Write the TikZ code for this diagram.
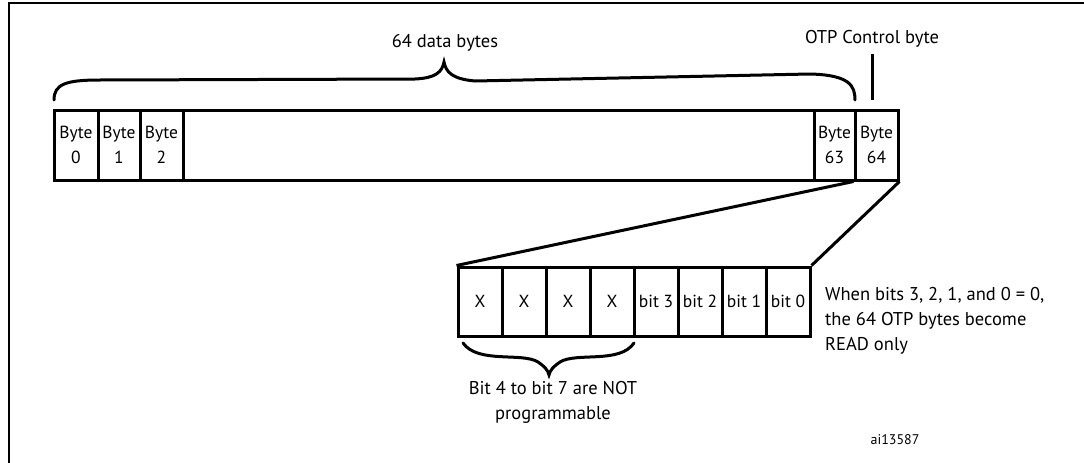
\documentclass[tikz,border=0pt]{standalone}
\usepackage{fontspec}
\setmainfont{PT Sans}
\begin{document}
\begin{tikzpicture}[x=1pt,y=-1pt,
  cell/.style={draw, line width=3pt, minimum height=70pt, inner sep=0pt, align=center, font=\fontsize{17.5}{25}\selectfont},
  bitcell/.style={draw, line width=3pt, minimum height=69pt, minimum width=44pt, inner sep=0pt, align=center, font=\fontsize{17.5}{20}\selectfont},
  lbl/.style={inner sep=0pt, align=center, font=\fontsize{18.5}{25}\selectfont},
  conn/.style={line width=3pt},
  brace/.style={line width=3pt, line cap=round}]
\useasboundingbox (0,0) rectangle (1084,463);
% frame
\draw[line width=2pt] (9,463) -- (9,3) -- (1084,3);
% byte row
\node[cell, minimum width=631pt] (mid) at (498.5,145) {};
\node[cell, minimum width=44pt] (b0) at (76,145) {Byte\\0};
\node[cell, minimum width=42pt] (b1) at (119,145) {Byte\\1};
\node[cell, minimum width=43pt] (b2) at (161.5,145) {Byte\\2};
\node[cell, minimum width=41pt] (b63) at (834.5,145) {Byte\\63};
\node[cell, minimum width=43pt] (b64) at (876.5,145) {Byte\\64};
% labels
\node[lbl] (data) at (445,43) {64 data bytes};
\node[lbl] (otp) at (872,39) {OTP Control byte};
\coordinate (otpend) at (872,100);
\draw[conn] (otp.south) ++(0,6) -- (otpend);
% top brace
\draw[brace] (54,100) .. controls (54,84) and (66,80) .. (100,80)
  -- (415,79) .. controls (436,78) and (442,72) .. (444,62)
  .. controls (446,72) and (452,79) .. (475,81)
  -- (810,74) .. controls (850,75) and (855,86) .. (855,100);
% bit row
\node[bitcell] (x7) at (480,301.5) {X};
\node[bitcell] (x6) at (524,301.5) {X};
\node[bitcell] (x5) at (568,301.5) {X};
\node[bitcell] (x4) at (612,301.5) {X};
\node[bitcell] (bit3) at (656,301.5) {bit 3};
\node[bitcell] (bit2) at (700,301.5) {bit 2};
\node[bitcell] (bit1) at (744,301.5) {bit 1};
\node[bitcell] (bit0) at (788,301.5) {bit 0};
% zoom connectors
\draw[conn] (b64.south west) -- (x7.north west);
\draw[conn] (b64.south east) -- (bit0.north east);
% lower brace
\draw[brace] (463,343) .. controls (478,364) and (522,352) .. (538,362)
  .. controls (544,366) and (548,370) .. (549,375)
  .. controls (550,370) and (554,366) .. (560,362)
  .. controls (576,352) and (620,364) .. (634,343);
\node[lbl, anchor=north] (np) at (553,381) {Bit 4 to bit 7 are NOT\\programmable};
\node[lbl, anchor=north west, align=left] (note) at (825,287) {When bits 3, 2, 1, and 0 = 0,\\the 64 OTP bytes become\\READ only};
\node[lbl, font=\fontsize{14}{16}\selectfont] (id) at (895,440) {ai13587};
\end{tikzpicture}
\end{document}
